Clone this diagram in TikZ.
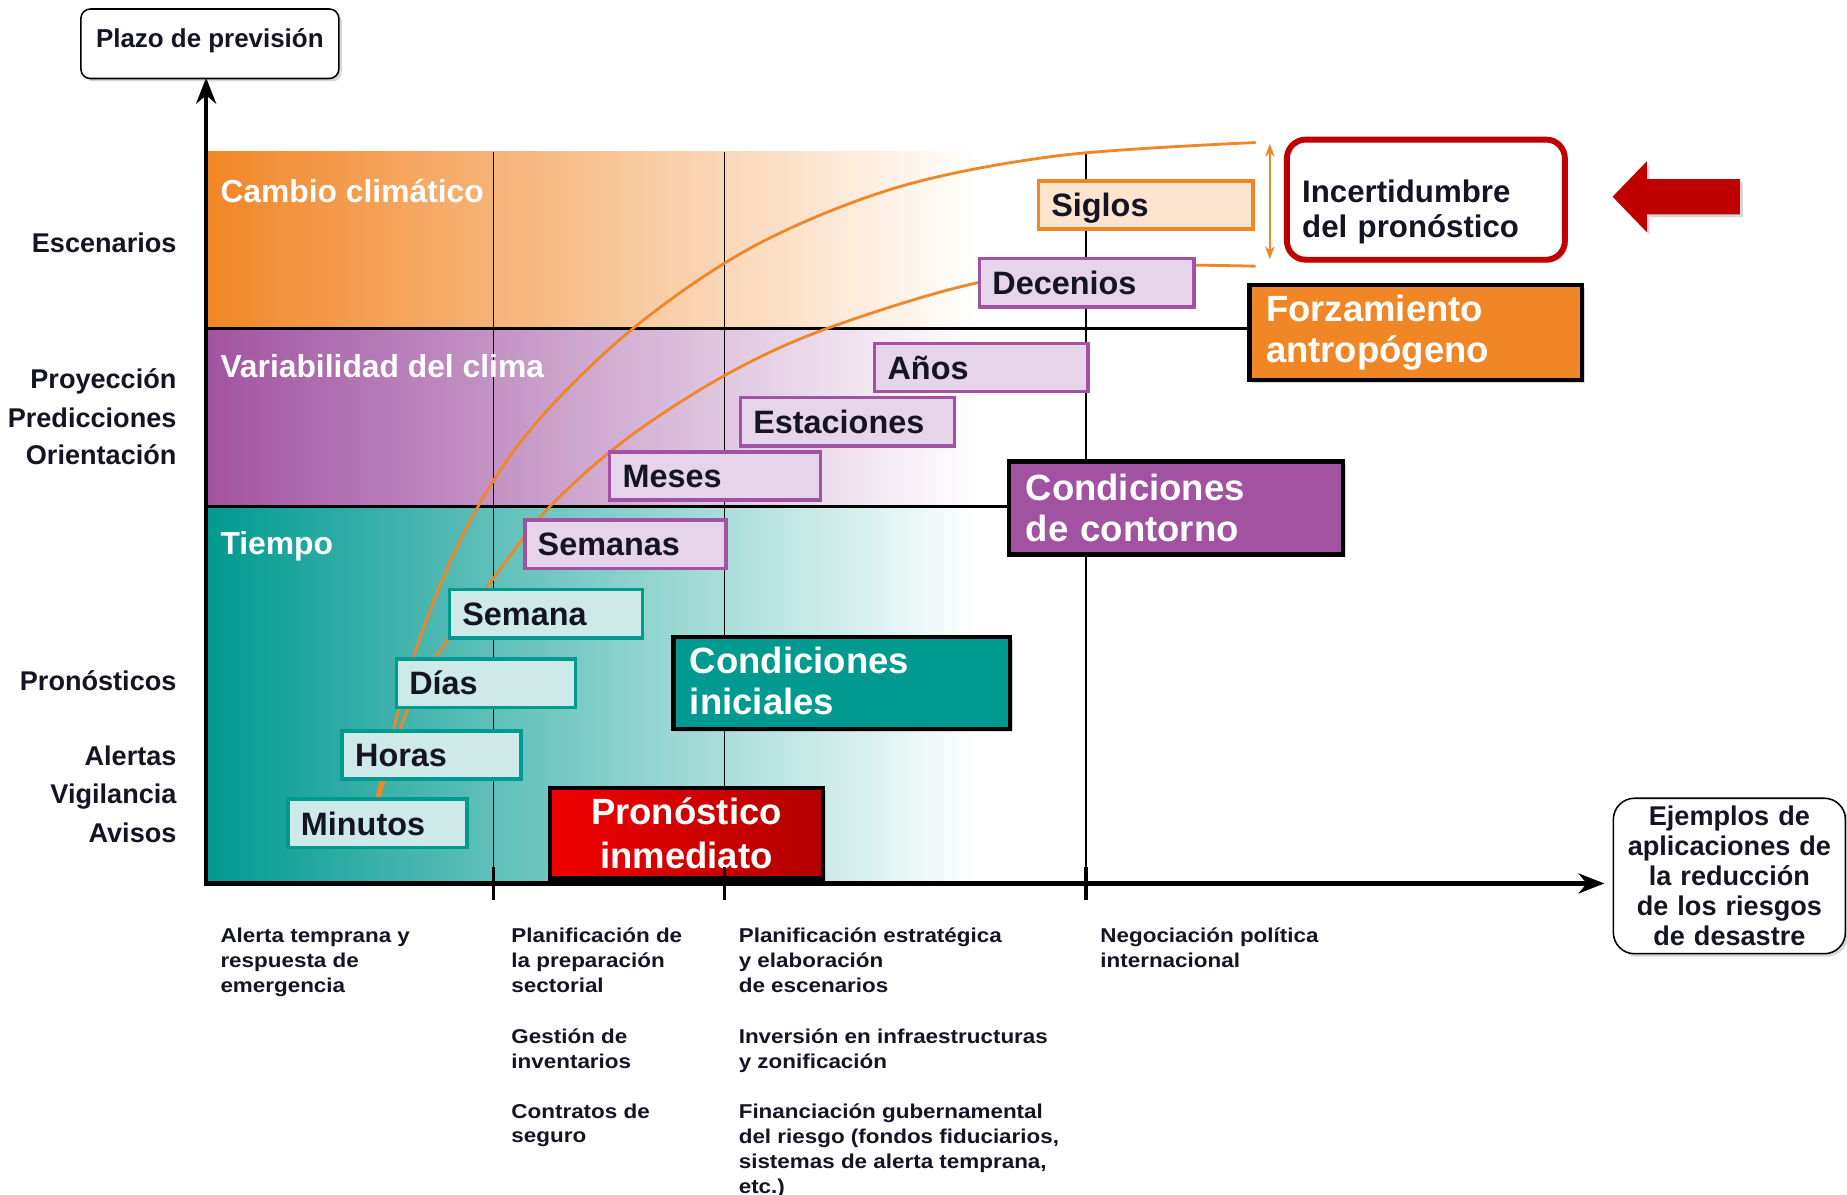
\documentclass[tikz,border=0pt]{standalone}
\usepackage{fontspec}
\setmainfont{Liberation Sans}
\newfontfamily\widefont{Liberation Sans}[FakeStretch=1.12]
\usetikzlibrary{arrows.meta,shadows}
\definecolor{orangeC}{RGB}{241,134,38}
\definecolor{purpleC}{RGB}{161,83,161}
\definecolor{tealC}{RGB}{0,154,144}
\definecolor{orangeL}{RGB}{253,228,206}
\definecolor{purpleL}{RGB}{229,212,234}
\definecolor{tealL}{RGB}{205,234,233}
\definecolor{redD}{RGB}{192,0,0}
\definecolor{redA}{RGB}{242,0,0}
\definecolor{redB}{RGB}{178,0,0}
\definecolor{txt}{RGB}{20,20,35}
\newcommand\myfs[2]{\fontsize{#1}{#2}\selectfont}
\begin{document}
\begin{tikzpicture}[x=1pt,y=-1pt,
  mysh/.style={drop shadow={opacity=0.3, shadow xshift=2.5pt, shadow yshift=-2.5pt}},
  tbox/.style={draw, line width=3pt, inner xsep=11pt, inner ysep=0pt, minimum height=41pt, anchor=north west, align=left, text height=25.8pt, text depth=6pt, font=\bfseries\myfs{27.5}{31}, text=txt},
  obox/.style={tbox, draw=orangeC, fill=orangeL},
  pbox/.style={tbox, draw=purpleC, fill=purpleL},
  gbox/.style={tbox, draw=tealC, fill=tealL},
  bigbox/.style={draw=black, line width=3.5pt, inner xsep=14pt, inner ysep=0pt, anchor=north west, align=left, text=white, font=\bfseries\myfs{31}{34.5}, mysh},
  plainbox/.style={draw=black, line width=1.3pt, fill=white, anchor=north west, text=txt, mysh},
  axislbl/.style={anchor=base east, font=\bfseries\myfs{23}{26}, text=txt, inner sep=0pt},
  bandlbl/.style={anchor=base west, font=\bfseries\myfs{27}{30}, text=white, inner sep=0pt},
  app/.style={anchor=north west, align=left, inner sep=0pt, font=\widefont\bfseries\myfs{17}{21.2}, text=txt},
  orcurve/.style={draw=orangeC, line width=2.4pt},
  gridln/.style={draw=black, line width=1.5pt},
  tickln/.style={draw=black, line width=3pt},
  bandln/.style={draw=black, line width=2.8pt},
]
\useasboundingbox (0,0) rectangle (1568,1014);
\fill[white] (0,0) rectangle (1568,1014);

% bands
\fill[left color=orangeC, right color=white] (175,129) rectangle (830,279);
\fill[left color=purpleC, right color=white] (175,279) rectangle (830,430);
\fill[left color=tealC, right color=white] (175,430) rectangle (830,750);

% grid lines
\draw[gridln] (419,129) -- (419,750);
\draw[gridln] (615,129) -- (615,750);
\draw[gridln] (922,129) -- (922,750);
\draw[bandln] (175,279) -- (1060,279);
\draw[bandln] (175,430) -- (855,430);

% band labels
\node[bandlbl] (b1) at (187,171.5) {Cambio climático};
\node[bandlbl] (b2) at (187,320.5) {Variabilidad del clima};
\node[bandlbl] (b3) at (187,470.5) {Tiempo};

% curves
\draw[orcurve] plot[smooth, tension=0.55] coordinates {(320,677) (352,555) (395,450) (450,365) (536,280) (640,209) (762,159) (900,132) (1066,121)};
\draw[orcurve] plot[smooth, tension=0.55] coordinates {(322,677) (343,610) (372,555) (416,495) (464,433) (530,374) (613,320) (699,280) (830,240) (950,226) (1066,226)};

% small boxes
\node[obox, text width=160pt] (siglos) at (880,152) {Siglos};
\node[pbox, text width=160pt] (decenios) at (830,218) {Decenios};
\node[pbox, text width=159pt] (anos) at (741,290) {Años};
\node[pbox, text width=160pt] (estaciones) at (627,336) {Estaciones};
\node[pbox, text width=157pt] (meses) at (516,382) {Meses};
\node[pbox, text width=149pt] (semanas) at (444,440) {Semanas};
\node[gbox, text width=142pt] (semana) at (380,499) {Semana};
\node[gbox, text width=130pt] (dias) at (335,558) {Días};
\node[gbox, text width=130pt] (horas) at (289,619) {Horas};
\node[gbox, text width=130pt] (minutos) at (243,677) {Minutos};

% big boxes
\node[bigbox, fill=orangeC, text width=254pt, minimum height=81pt] (forz) at (1059,240) {Forzamiento\\antropógeno};
\node[bigbox, fill=purpleC, text width=255pt, minimum height=79pt] (contorno) at (855,390) {Condiciones\\de contorno};
\node[bigbox, fill=tealC, text width=258pt, minimum height=78pt, text height=25pt, text depth=41pt] (iniciales) at (570,539) {Condiciones\\iniciales};
\node[bigbox, left color=redA, right color=redB, align=center, text width=204pt, minimum height=77pt, font=\bfseries\myfs{31}{37}] (inmediato) at (465,667) {Pronóstico\\inmediato};

% uncertainty box and arrows
\node[draw=redD, line width=5pt, rounded corners=16pt, fill=white, anchor=north west, minimum width=236pt, minimum height=102pt, inner xsep=13pt, inner ysep=0pt, text width=210pt, align=left, text height=40pt, text depth=35pt, font=\bfseries\myfs{26.5}{29.5}, text=txt, mysh] (inc) at (1090,116) {Incertidumbre\\del pronóstico};
\fill[redD, mysh] (1369,167) -- (1398,137) -- (1398,152) -- (1477,152) -- (1477,182) -- (1398,182) -- (1398,197) -- cycle;
\coordinate (ua) at (1078,122);
\coordinate (ub) at (1078,220);
\draw[orangeC, line width=2pt, {Stealth[length=11pt,width=8pt]}-{Stealth[length=11pt,width=8pt]}] (ua) -- (ub);

% axes
\coordinate (O) at (175,750);
\coordinate (ytip) at (175,66);
\coordinate (xtip) at (1362,750);
\draw[line width=3.5pt, {Stealth[length=22pt,width=17pt]}-{Stealth[length=22pt,width=17pt]}] (ytip) -- (O) -- (xtip);
\draw[tickln] (419,736) -- (419,764);
\draw[tickln] (615,736) -- (615,764);
\draw[tickln] (922,736) -- (922,764);

% axis title boxes
\node[plainbox, rounded corners=8pt, minimum width=219pt, minimum height=59pt, inner ysep=10pt, text height=23pt, text depth=16pt, font=\bfseries\myfs{22}{25}] (plazo) at (68,7) {Plazo de previsión};
\node[plainbox, rounded corners=18pt, minimum width=197pt, minimum height=132pt, inner xsep=6pt, align=center, text width=185pt, font=\bfseries\myfs{23}{25.5}] (ejemplos) at (1369,677) {Ejemplos de\\aplicaciones de\\la reducción\\de los riesgos\\de desastre};

% left labels
\node[axislbl] (l1) at (150,214) {Escenarios};
\node[axislbl] (l2) at (150,330) {Proyección};
\node[axislbl] (l3) at (150,363) {Predicciones};
\node[axislbl] (l4) at (150,394) {Orientación};
\node[axislbl] (l5) at (150,586) {Pronósticos};
\node[axislbl] (l6) at (150,650) {Alertas};
\node[axislbl] (l7) at (150,682) {Vigilancia};
\node[axislbl] (l8) at (150,715) {Avisos};

% application texts
\node[app] (a1) at (187,787.6) {Alerta temprana y\\respuesta de\\emergencia};
\node[app] (a2) at (434,787.6) {Planificación de\\la preparación\\sectorial};
\node[app] (a3) at (434,873) {Gestión de\\inventarios};
\node[app] (a4) at (434,936.6) {Contratos de\\seguro};
\node[app] (a5) at (627,787.6) {Planificación estratégica\\y elaboración\\de escenarios};
\node[app] (a6) at (627,873) {Inversión en infraestructuras\\y zonificación};
\node[app] (a7) at (627,936.6) {Financiación gubernamental\\del riesgo (fondos fiduciarios,\\sistemas de alerta temprana,\\etc.)};
\node[app] (a8) at (934,787.6) {Negociación política\\internacional};
\end{tikzpicture}
\end{document}
